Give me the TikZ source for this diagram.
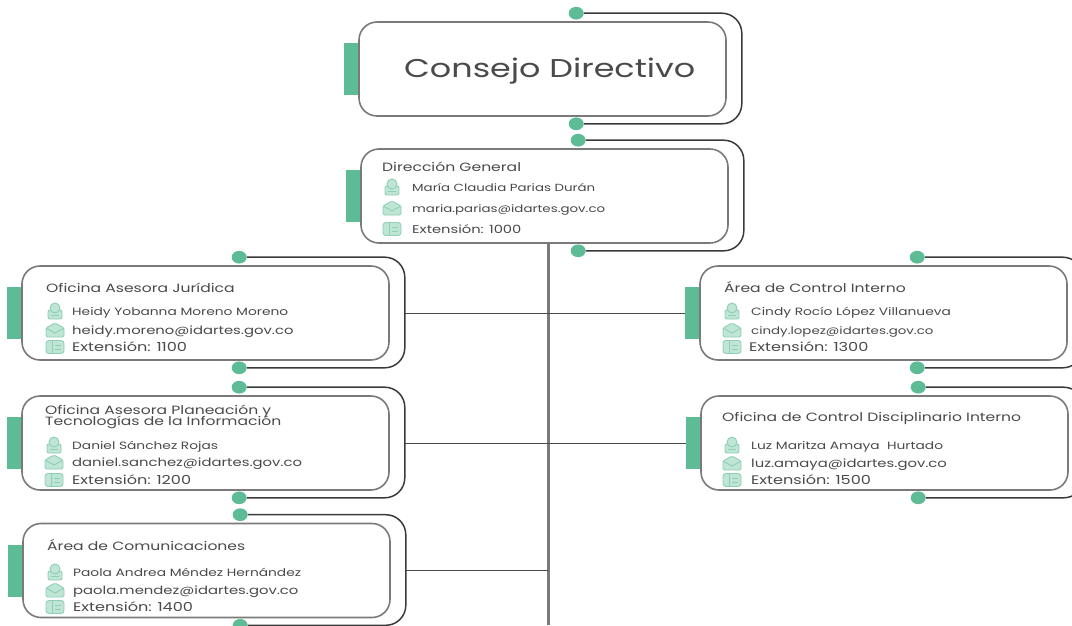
\documentclass[tikz,border=0pt]{standalone}
\usepackage{fontspec}
\setmainfont{Poppins}
\newfontfamily\widefont[FakeStretch=1.3]{Poppins}
\usetikzlibrary{calc}
\usetikzlibrary{positioning}
\definecolor{cardgreen}{HTML}{5DBB96}
\definecolor{iconfill}{HTML}{BFE5D4}
\definecolor{cardgray}{HTML}{7A7A7A}
\definecolor{inkdark}{HTML}{3A3A3A}
\definecolor{inktext}{HTML}{4A4A4A}
\tikzset{
  cardbox/.style={draw=cardgray, fill=white, line width=1.6pt, rounded corners=18pt, minimum width=367pt, minimum height=94pt, inner sep=0pt},
  cardtab/.style={fill=cardgreen, minimum width=14pt, minimum height=52pt, inner sep=0pt},
  carddot/.style={circle, fill=cardgreen, minimum size=15pt, inner sep=0pt, yscale=.85},
  cardhook/.style={draw=inkdark, line width=1.5pt, rounded corners=20pt},
  cardtitle/.style={anchor=base west, yshift=-4pt, inner sep=0pt, text=inktext, font=\widefont\fontsize{12}{12}\selectfont},
  cardtext/.style={anchor=base west, yshift=-4pt, inner sep=0pt, text=inktext, font=\widefont\fontsize{10.6}{10.6}\selectfont},
  cardsmall/.style={cardtext, font=\widefont\fontsize{10.3}{10.3}\selectfont},
  cardmail/.style={cardtext, font=\widefont\fontsize{11.4}{11.4}\selectfont},
  cardext/.style={cardtext, font=\widefont\fontsize{12.4}{12.4}\selectfont},
  spineline/.style={draw=cardgray, line width=3pt},
  linkline/.style={draw=inktext, line width=1pt},
  iconline/.style={draw=cardgreen!70, fill=iconfill, line width=.9pt},
  personicon/.pic={
    \draw[iconline, rounded corners=2pt] (-7,8) -- (-7,-1) -- (7,-1) -- (7,8) -- cycle;
    \draw[iconline] (0,-3) circle (5);
    \draw[iconline] (-4,4) -- (4,4);
  },
  mailicon/.pic={
    \draw[iconline, rounded corners=1.5pt] (-9,-2) -- (0,-7) -- (9,-2) -- (9,7) -- (-9,7) -- cycle;
    \draw[iconline] (-9,-2) -- (0,3) -- (9,-2);
  },
  phoneicon/.pic={
    \draw[iconline, rounded corners=3pt] (-9,-6.5) rectangle (9,6.5);
    \draw[iconline] (-3,-6.5) -- (-3,6.5);
    \draw[iconline] (0,-2) -- (6,-2) (0,2) -- (6,2);
  },
}

\begin{document}
\begin{tikzpicture}[x=1pt,y=-1pt]
\useasboundingbox (0,0) rectangle (1072,625);
% spine and links
\coordinate (spinetop) at (548,243);
\coordinate (spineend) at (548,625);
\draw[spineline] (spinetop) -- (spineend);
% cards
\node[cardbox] (consejo) at (542.5,69) {};
\node[cardbox] (direccion) at (544.5,196) {};
\node[cardbox] (juridica) at (205.5,313) {};
\node[cardbox] (planeacion) at (205.5,443) {};
\node[cardbox] (comunicaciones) at (206.5,570.5) {};
\node[cardbox] (control) at (883.5,313) {};
\node[cardbox] (disciplinario) at (884.5,443) {};
\foreach \card in {consejo,direccion,juridica,planeacion,comunicaciones,control,disciplinario}{
  \node[cardtab, left=0pt of \card] (\card tab) {};
  \node[carddot] (\card top) at ($(\card.north west)+(218,-8)$) {};
  \node[carddot] (\card bottom) at ($(\card.south west)+(218,7)$) {};
  \coordinate (\card edge) at ($(\card.east)+(15,0)$);
  \draw[cardhook] (\card top) -| (\card edge) |- (\card bottom);
}
\draw[linkline] (juridicaedge) -- (controltab.west);
\draw[linkline] (planeacionedge) -- (disciplinariotab.west);
\draw[linkline] (comunicacionesedge) -- (comunicacionesedge -| spineend);
% consejo
\node[anchor=base west, inner sep=0pt, text=inktext, font=\widefont\fontsize{25.7}{25.7}\selectfont] (consejotitle) at (404,77) {Consejo Directivo};
% direccion
\node[cardtitle] (direcciontitle) at (382,167) {Dirección General};
\node[cardsmall] (direccionname) at (412,187) {María Claudia Parias Durán};
\node[cardsmall] (direccionmail) at (412,208) {maria.parias@idartes.gov.co};
\node[cardsmall, font=\widefont\fontsize{11.3}{11.3}\selectfont] (direccionext) at (412,229) {Extensión: 1000};
\pic at (392,187) {personicon};
\pic at (392,208) {mailicon};
\pic at (392,229) {phoneicon};
% juridica
\node[cardtitle] (juridicatitle) at (46,288) {Oficina Asesora Jurídica};
\node[cardtext] (juridicaname) at (72,311) {Heidy Yobanna Moreno Moreno};
\node[cardmail] (juridicamail) at (72,330) {heidy.moreno@idartes.gov.co};
\node[cardext] (juridicaext) at (72,347) {Extensión: 1100};
\pic at (55,311) {personicon};
\pic at (55,330) {mailicon};
\pic at (55,347) {phoneicon};
% planeacion
\node[cardtitle] (planeaciontitle) at (45,410) {Oficina Asesora Planeación y};
\node[cardtitle] (planeacionsub) at (45,421) {Tecnologías de la Información};
\node[cardtext] (planeacionname) at (72,445) {Daniel Sánchez Rojas};
\node[cardmail] (planeacionmail) at (72,462) {daniel.sanchez@idartes.gov.co};
\node[cardext] (planeacionext) at (72,480) {Extensión: 1200};
\pic at (54,445) {personicon};
\pic at (54,462) {mailicon};
\pic at (54,480) {phoneicon};
% comunicaciones
\node[cardtitle] (comunicacionestitle) at (47,546) {Área de Comunicaciones};
\node[cardtext] (comunicacionesname) at (73,572) {Paola Andrea Méndez Hernández};
\node[cardmail] (comunicacionesmail) at (73,590) {paola.mendez@idartes.gov.co};
\node[cardext] (comunicacionesext) at (73,607) {Extensión: 1400};
\pic at (55,572) {personicon};
\pic at (55,590) {mailicon};
\pic at (55,607) {phoneicon};
% control
\node[cardtitle] (controltitle) at (724,288) {Área de Control Interno};
\node[cardtext] (controlname) at (751,311) {Cindy Rocío López Villanueva};
\node[cardsmall] (controlmail) at (751,330) {cindy.lopez@idartes.gov.co};
\node[cardext] (controlext) at (749,347) {Extensión: 1300};
\pic at (732,311) {personicon};
\pic at (732,330) {mailicon};
\pic at (732,347) {phoneicon};
% disciplinario
\node[cardtitle] (disciplinariotitle) at (722,417) {Oficina de Control Disciplinario Interno};
\node[cardtext] (disciplinarioname) at (751,445) {Luz Maritza Amaya\ \ Hurtado};
\node[cardmail] (disciplinariomail) at (751,463) {luz.amaya@idartes.gov.co};
\node[cardext] (disciplinarioext) at (751,480) {Extensión: 1500};
\pic at (732,445) {personicon};
\pic at (732,463) {mailicon};
\pic at (732,480) {phoneicon};
\end{tikzpicture}
\end{document}
